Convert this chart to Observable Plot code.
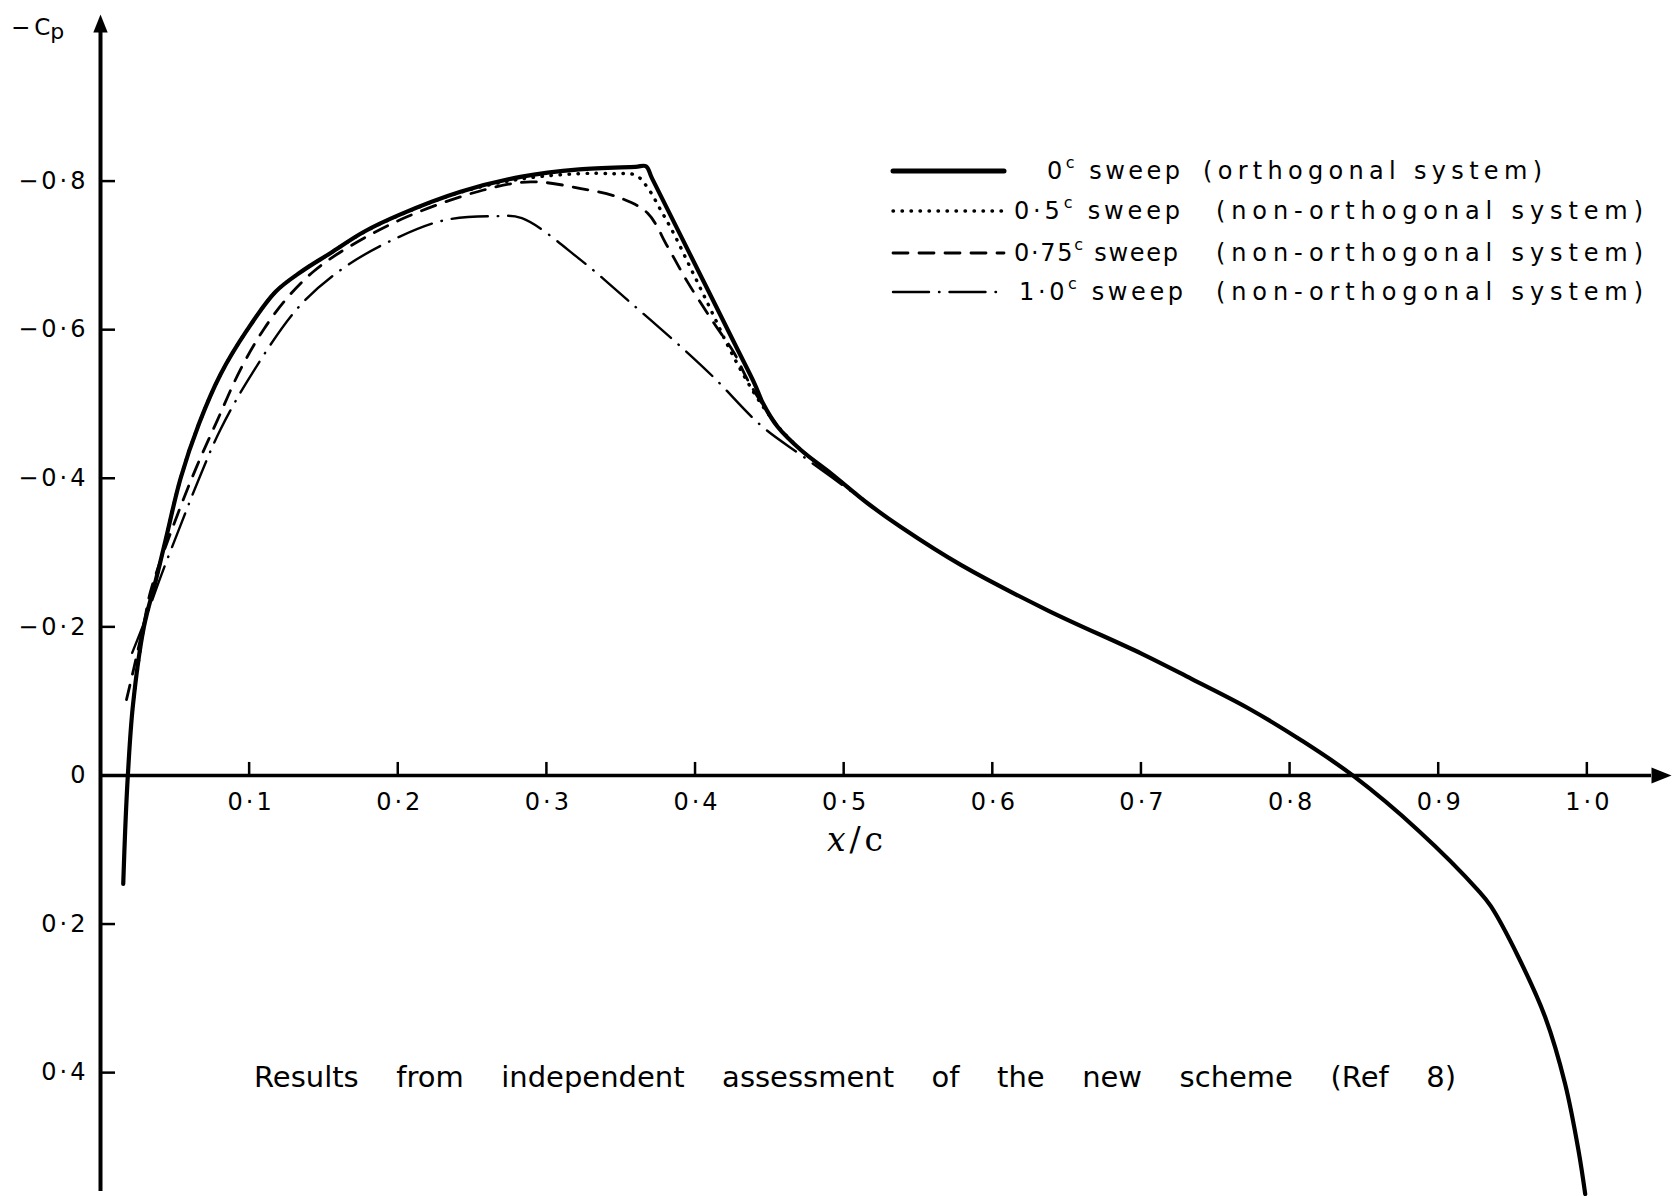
<!DOCTYPE html>
<html>
<head>
<meta charset="utf-8">
<script src="https://cdn.jsdelivr.net/npm/d3@7"></script>
<script src="https://cdn.jsdelivr.net/npm/@observablehq/plot@0.6"></script>
<style>
  html, body { margin: 0; padding: 0; background: #fff; }
  #chart { width: 1672px; height: 1196px; }
</style>
</head>
<body>
<div id="chart"></div>
<script>
// ---------------- DATA (x/c, Cp) ----------------
const sweep0 = [
  [0.0153, 0.146], [0.0166, 0.074], [0.0184, 0.0], [0.0218, -0.094], [0.0292, -0.200],
  [0.037, -0.261], [0.0438, -0.317], [0.0539, -0.400], [0.0662, -0.473], [0.0808, -0.540],
  [0.0988, -0.600], [0.1178, -0.651], [0.135, -0.678], [0.1546, -0.703], [0.177, -0.7315],
  [0.201, -0.7545], [0.2422, -0.7856], [0.2835, -0.806], [0.3222, -0.8157], [0.36, -0.8192],
  [0.367, -0.820], [0.371, -0.804], [0.404, -0.672], [0.4287, -0.573], [0.44, -0.5275],
  [0.4457, -0.501], [0.4557, -0.469], [0.4714, -0.4377], [0.4916, -0.4063], [0.5163, -0.366],
  [0.5387, -0.334], [0.5791, -0.283], [0.6375, -0.222], [0.7003, -0.164], [0.734, -0.130],
  [0.7722, -0.0905], [0.8081, -0.047], [0.8425, 0.0], [0.8866, 0.074], [0.927, 0.155],
  [0.9354, 0.176], [0.954, 0.2447], [0.972, 0.3255], [0.9854, 0.4153], [0.9944, 0.505],
  [0.9989, 0.5634]
];
const sweep05 = [
  [0.0218, -0.094], [0.0292, -0.200], [0.037, -0.261], [0.0438, -0.317], [0.0539, -0.400],
  [0.0662, -0.473], [0.0808, -0.540], [0.0988, -0.600], [0.1178, -0.651], [0.135, -0.678],
  [0.1546, -0.703], [0.177, -0.7310], [0.201, -0.754], [0.2422, -0.785], [0.2835, -0.803],
  [0.3222, -0.810], [0.345, -0.810], [0.360, -0.808], [0.3678, -0.792], [0.3769, -0.761],
  [0.3858, -0.729], [0.3948, -0.692], [0.4038, -0.655], [0.4127, -0.618], [0.4217, -0.580],
  [0.4307, -0.546], [0.4419, -0.508], [0.4557, -0.470], [0.4714, -0.438], [0.4916, -0.406],
  [0.5163, -0.366]
];
const sweep075 = [
  [0.0175, -0.102], [0.0224, -0.144], [0.0292, -0.205], [0.034, -0.250], [0.0516, -0.350],
  [0.065, -0.417], [0.0786, -0.478], [0.0943, -0.547], [0.110, -0.601], [0.1257, -0.643],
  [0.1437, -0.679], [0.1676, -0.712], [0.2062, -0.752], [0.2577, -0.788], [0.2896, -0.799],
  [0.3232, -0.790], [0.350, -0.777], [0.368, -0.757], [0.3816, -0.7115], [0.395, -0.664],
  [0.413, -0.608], [0.4265, -0.568], [0.4355, -0.532], [0.4557, -0.470], [0.4714, -0.438],
  [0.4916, -0.406], [0.5163, -0.366]
];
const sweep10 = [
  [0.0213, -0.165], [0.0292, -0.205], [0.0404, -0.267], [0.0539, -0.337], [0.0662, -0.399],
  [0.0808, -0.466], [0.1032, -0.545], [0.134, -0.632], [0.1649, -0.685], [0.201, -0.725],
  [0.2319, -0.7475], [0.2654, -0.7528], [0.2835, -0.750], [0.3232, -0.6936], [0.3547, -0.6397],
  [0.3906, -0.5768], [0.413, -0.535], [0.4444, -0.471], [0.4736, -0.428], [0.5163, -0.366]
];

const xTicks = [0.1, 0.2, 0.3, 0.4, 0.5, 0.6, 0.7, 0.8, 0.9, 1.0];
const xTickLabels = ["0·1", "0·2", "0·3", "0·4", "0·5", "0·6", "0·7", "0·8", "0·9", "1·0"];
const yTicks = [-0.8, -0.6, -0.4, -0.2, 0, 0.2, 0.4];
const yTickLabels = ["−0·8", "−0·6", "−0·4", "−0·2", "0", "0·2", "0·4"];

const seriesLabels = ["0", "0·5", "0·75", "1·0"];
const systemLabels = ["(orthogonal system)", "(non-orthogonal system)", "(non-orthogonal system)", "(non-orthogonal system)"];
const xLabel = "x/c";
const yLabelMain = "−C";
const yLabelSub = "p";
const caption = "Results from independent assessment of the new scheme (Ref 8)";

// ---------------- SCALES / STYLES ----------------
const xDomain = [0, 1.0435];
const yDomain = [0.56, -1.0];

const toRows = arr => arr.map(([x, cp]) => ({x, cp}));
const seriesData = [sweep0, sweep05, sweep075, sweep10].map(toRows);

const lineStyles = [
  {strokeWidth: 4.2, strokeDasharray: null},
  {strokeWidth: 3.4, strokeDasharray: "0.5 8.5"},
  {strokeWidth: 2.8, strokeDasharray: "15 11"},
  {strokeWidth: 2.4, strokeDasharray: "36 10 0.5 10"}
];

const arrowHead = {
  draw(ctx, size) {
    const r = Math.sqrt(size / Math.PI);
    ctx.moveTo(0, -2 * r);
    ctx.lineTo(0.8 * r, 0);
    ctx.lineTo(-0.8 * r, 0);
    ctx.closePath();
  }
};

const lineMarks = seriesData.map((rows, i) => Plot.line(rows, {
  x: "x", y: "cp", stroke: "black", curve: "catmull-rom",
  strokeWidth: lineStyles[i].strokeWidth,
  ...(lineStyles[i].strokeDasharray ? {strokeDasharray: lineStyles[i].strokeDasharray} : {})
}));

const chart = Plot.plot({
  width: 1672,
  height: 1196,
  marginLeft: 100,
  marginRight: 21,
  marginTop: 32,
  marginBottom: 5,
  x: {domain: xDomain, axis: null},
  y: {domain: yDomain, axis: null},
  style: {fontFamily: "'DejaVu Sans', sans-serif", fontSize: "24px", letterSpacing: "3px", background: "#fff", color: "#000", overflow: "visible"},
  marks: [
    // axis lines with arrow heads
    Plot.ruleX([0], {stroke: "black", strokeWidth: 4}),
    Plot.ruleY([0], {stroke: "black", strokeWidth: 3.5}),
    Plot.dot([0], {x: 0, y: yDomain[1], symbol: arrowHead, r: 9, fill: "black", stroke: "none"}),
    Plot.dot([0], {x: xDomain[1], y: 0, symbol: arrowHead, r: 10, rotate: 90, fill: "black", stroke: "none"}),
    // ticks
    Plot.ruleX(xTicks, {x: d => d, y1: 0, y2: 0, insetTop: -13, stroke: "black", strokeWidth: 2.5}),
    Plot.ruleY(yTicks.filter(d => d !== 0), {y: d => d, x1: 0, x2: 0, insetRight: -15, stroke: "black", strokeWidth: 2.5}),
    // tick labels
    Plot.text(xTicks, {x: d => d, y: 0, text: (d, i) => xTickLabels[i], dy: 27, dx: 2, fontSize: 24, fill: "black"}),
    Plot.text(yTicks, {x: 0, y: d => d, text: (d, i) => yTickLabels[i], textAnchor: "end", dx: -12, fontSize: 24, fill: "black"}),
    // curves
    ...lineMarks
  ]
});

document.getElementById("chart").appendChild(chart);

// ---------------- ANNOTATIONS (legend, labels, caption) ----------------
const svg = d3.select(chart);
const font = "'DejaVu Sans', sans-serif";

// y label  -Cp
const yl = svg.append("text").attr("x", 11).attr("y", 35).attr("text-anchor", "start")
  .attr("font-family", font).attr("font-size", 23).attr("letter-spacing", 0).attr("fill", "black");
yl.append("tspan").text(yLabelMain.slice(0, 1));
yl.append("tspan").attr("dx", 4).text(yLabelMain.slice(1));
yl.append("tspan").attr("dy", 4).attr("font-size", 22).text(yLabelSub);

// x label  x/c
const xl = svg.append("text").attr("x", 857).attr("y", 851).attr("text-anchor", "middle")
  .attr("font-family", "'DejaVu Serif', serif").attr("font-size", 33).attr("letter-spacing", 4)
  .attr("fill", "black");
xl.append("tspan").attr("font-style", "italic").text(xLabel.slice(0, 1));
xl.append("tspan").text(xLabel.slice(1));

// legend
const legendLayout = {
  rowY: [171, 211, 253, 292],
  lineX: [893, 1004],
  labelX: [[1047, 1180], [1014, 1180], [1014, 1178], [1019, 1183]],
  parenX: [[1203, 1542], [1216, 1643], [1216, 1643], [1216, 1643]]
};
const lg = svg.append("g").attr("font-family", font).attr("fill", "black").attr("text-anchor", "start");
seriesLabels.forEach((lab, i) => {
  const y = legendLayout.rowY[i];
  const st = lineStyles[i];
  const ln = lg.append("line")
    .attr("x1", legendLayout.lineX[0]).attr("x2", legendLayout.lineX[1])
    .attr("y1", y).attr("y2", y)
    .attr("stroke", "black").attr("stroke-width", i === 0 ? 5 : st.strokeWidth)
    .attr("stroke-linecap", "round");
  if (st.strokeDasharray) ln.attr("stroke-dasharray", st.strokeDasharray);

  const [a0, a1] = legendLayout.labelX[i];
  const t = lg.append("text").attr("x", a0).attr("y", y + 8).attr("font-size", 24)
    .attr("text-anchor", "start").attr("letter-spacing", 0)
    .attr("textLength", a1 - a0).attr("lengthAdjust", "spacing");
  t.append("tspan").text(lab);
  t.append("tspan").attr("font-size", 16).attr("dy", -11).text("c");
  t.append("tspan").attr("dy", 11).text(" sweep");

  const [p0, p1] = legendLayout.parenX[i];
  lg.append("text").attr("x", p0).attr("y", y + 8).attr("font-size", 24)
    .attr("text-anchor", "start").attr("letter-spacing", 0)
    .attr("textLength", p1 - p0).attr("lengthAdjust", "spacing")
    .text(systemLabels[i]);
});

// caption inside the plot
const capX = [254, 1456];
const cap = svg.append("text").attr("x", capX[0]).attr("y", 1087).attr("text-anchor", "start")
  .attr("font-family", font).attr("font-size", 29).attr("letter-spacing", 0)
  .attr("fill", "black").text(caption);
const natural = cap.node().getComputedTextLength();
const nSpaces = caption.split(" ").length - 1;
cap.attr("word-spacing", Math.max(0, (capX[1] - capX[0] - natural) / nSpaces));
</script>
</body>
</html>
